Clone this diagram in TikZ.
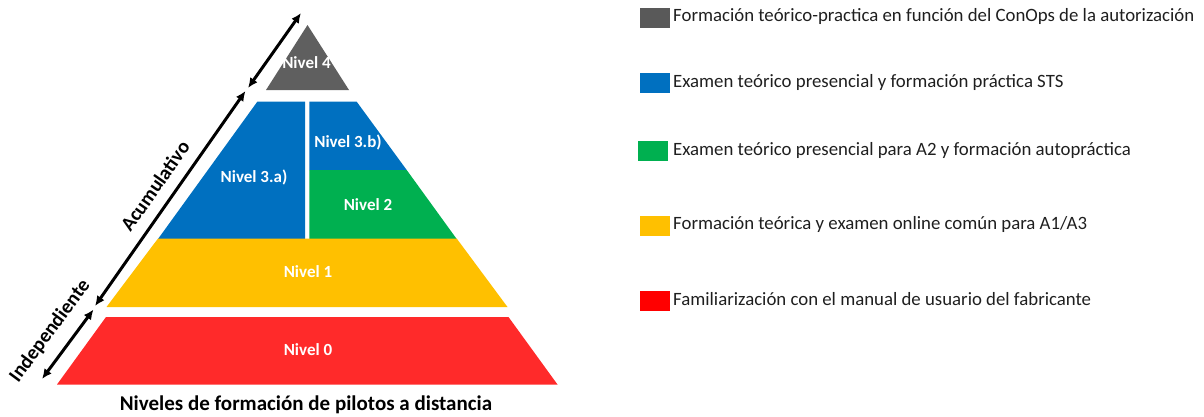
\documentclass[tikz,border=0pt]{standalone}
\usepackage{fontspec}
\setmainfont{Carlito}
\usetikzlibrary{arrows.meta}
\definecolor{cgray}{HTML}{5F5F5F}
\definecolor{cblue}{HTML}{0070C0}
\definecolor{cgreen}{HTML}{00B050}
\definecolor{cyellow}{HTML}{FFC000}
\definecolor{cred}{HTML}{FF2A2A}
\definecolor{lred}{HTML}{FF0000}
\definecolor{lgray}{HTML}{595959}
\begin{document}
\begin{tikzpicture}[x=1pt,y=-1pt,
  lvl/.style={font=\fontsize{17}{19}\selectfont\bfseries, text=white, inner sep=0pt},
  legtext/.style={font=\fontsize{18.8}{21}\selectfont, text=black!88, anchor=base west, inner sep=0pt},
  legbox/.style={minimum width=30pt, minimum height=20pt, inner sep=0pt, draw=none},
  sidelabel/.style={font=\fontsize{20}{22}\selectfont\bfseries, inner sep=0pt},
  dblarrow/.style={line width=3pt, {Latex[length=10pt,width=9pt]}-{Latex[length=10pt,width=9pt]}}]
\useasboundingbox (0,0) rectangle (1204,416);
% pyramid
\fill[cgray] (307.5,25) -- (349,90) -- (266,90) -- cycle;
\fill[cblue] (257.3,101.7) -- (305,101.7) -- (305,239) -- (158,239) -- cycle;
\fill[cblue] (309.3,101.7) -- (356.7,101.7) -- (406.7,170) -- (309.3,170) -- cycle;
\fill[cgreen] (309.3,170) -- (406.7,170) -- (456.7,239) -- (309.3,239) -- cycle;
\fill[cyellow] (158,238.5) -- (456.7,238.5) -- (507.5,307) -- (106.5,307) -- cycle;
\fill[cred] (106,317) -- (508.5,317) -- (557.5,384.5) -- (57,384.5) -- cycle;
% labels
\node[lvl] (n4) at (306.5,63) {Nivel 4};
\node[lvl] (n3a) at (254,177) {Nivel 3.a)};
\node[lvl] (n3b) at (348,142) {Nivel 3.b)};
\node[lvl] (n2) at (368,205) {Nivel 2};
\node[lvl] (n1) at (308,272) {Nivel 1};
\node[lvl] (n0) at (308,350) {Nivel 0};
% arrows
\coordinate (a1) at (248,88);
\coordinate (a2) at (301,13);
\coordinate (b1) at (95,306);
\coordinate (b2) at (245.5,91);
\coordinate (c1) at (42,379);
\coordinate (c2) at (93.5,309.5);
\draw[dblarrow] (a1) -- (a2);
\draw[dblarrow] (b1) -- (b2);
\draw[dblarrow] (c1) -- (c2);
\node[sidelabel, rotate=55] (acum) at (155,186) {Acumulativo};
\node[sidelabel, rotate=53.5] (indep) at (50,331) {Independiente};
% title
\node[font=\fontsize{21}{23}\selectfont\bfseries, anchor=base, inner sep=0pt] (title) at (306,410) {Niveles de formación de pilotos a distancia};
% legend
\node[legbox, fill=lgray] (k4) at (655,18) {};
\node[legbox, fill=cblue] (k3) at (655,83) {};
\node[legbox, fill=cgreen] (k2) at (653,151) {};
\node[legbox, fill=cyellow] (k1) at (655,225.5) {};
\node[legbox, fill=lred] (k0) at (655,301) {};
\node[legtext] (t4) at (673,21.5) {Formación teórico-practica en función del ConOps de la autorización};
\node[legtext] (t3) at (673,87) {Examen teórico presencial y formación práctica STS};
\node[legtext] (t2) at (673,155) {Examen teórico presencial para A2 y formación autopráctica};
\node[legtext] (t1) at (673,229.5) {Formación teórica y examen online común para A1/A3};
\node[legtext] (t0) at (673,305) {Familiarización con el manual de usuario del fabricante};
\end{tikzpicture}
\end{document}
